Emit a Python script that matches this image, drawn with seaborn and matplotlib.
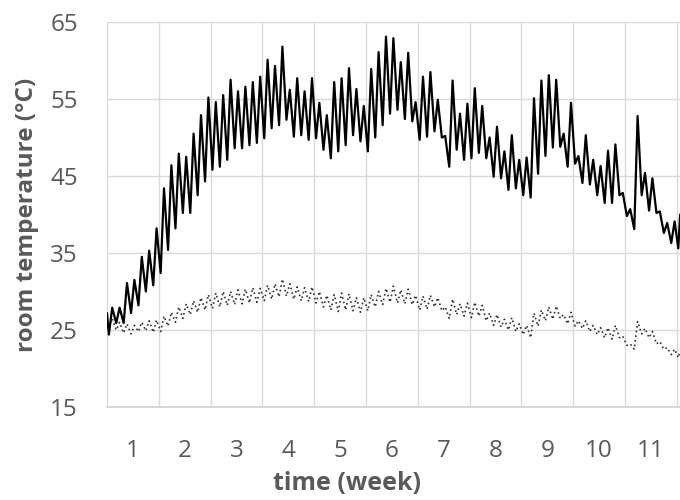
import numpy as np
import pandas as pd
import matplotlib
matplotlib.use("Agg")
import matplotlib.pyplot as plt
import seaborn as sns

# ---- data ----
week_labels = ["1", "2", "3", "4", "5", "6", "7", "8", "9", "10", "11"]
y_ticks = [15, 25, 35, 45, 55, 65]

solid_start = 27.2
solid_end = 40.0
solid_trough = [24.4, 25.9, 25.9, 27.2, 28.2, 30.0, 30.8,
                32.4, 35.4, 38.2, 40.2, 40.2, 42.5, 44.3,
                45.8, 46.2, 47.1, 48.6, 48.6, 49.0, 49.3,
                49.9, 51.2, 51.6, 52.3, 50.1, 50.3, 49.7,
                49.9, 48.4, 47.3, 48.2, 49.0, 50.3, 49.5,
                48.2, 50.0, 51.6, 53.1, 53.6, 52.4, 52.1,
                49.7, 50.1, 50.8, 50.0, 46.2, 48.4, 47.1,
                47.3, 48.0, 47.3, 44.9, 44.7, 43.2, 43.4,
                42.5, 42.2, 45.3, 47.6, 48.7, 48.8, 46.2,
                46.6, 44.1, 43.9, 42.5, 41.5, 41.5, 42.5,
                39.8, 38.1, 42.5, 40.5, 40.2, 37.6, 36.3, 35.6]
solid_peak = [27.9, 27.9, 31.1, 31.5, 34.5, 35.3, 38.2,
              43.4, 46.4, 47.9, 47.5, 50.5, 52.9, 55.2,
              54.6, 55.5, 57.5, 56.0, 56.6, 57.2, 57.9,
              60.1, 59.3, 61.8, 56.2, 57.7, 56.0, 57.7,
              54.5, 52.9, 57.2, 57.7, 59.0, 56.3, 54.1,
              58.9, 61.1, 63.1, 62.9, 59.8, 61.0, 54.6,
              57.9, 58.5, 54.9, 50.2, 57.4, 53.1, 54.4,
              56.4, 54.1, 50.0, 51.4, 48.2, 50.3, 47.1,
              47.4, 55.1, 57.4, 58.1, 57.5, 50.5, 54.5,
              47.6, 50.3, 47.1, 46.3, 48.3, 49.1, 42.8,
              40.7, 52.8, 45.4, 44.7, 40.4, 38.9, 39.1]

dotted_start = 25.5
dotted_end = 22.3
dotted_trough = [25.2, 25.0, 24.6, 24.5, 24.8, 24.9, 24.7,
                 24.8, 25.5, 26.0, 26.5, 27.0, 27.3, 27.6,
                 27.8, 28.0, 28.2, 28.3, 28.4, 28.5, 28.6,
                 28.8, 29.0, 29.3, 29.4, 29.0, 28.8, 28.7,
                 28.5, 28.0, 27.6, 27.4, 27.6, 27.5, 27.3,
                 27.5, 28.0, 28.3, 28.6, 28.5, 28.4, 28.3,
                 27.6, 27.7, 28.0, 27.5, 26.5, 27.0, 26.8,
                 26.6, 26.8, 26.2, 25.6, 25.4, 25.0, 24.8,
                 24.4, 24.0, 25.5, 26.2, 26.4, 26.5, 25.8,
                 25.5, 25.2, 24.8, 24.4, 24.0, 23.8, 24.0,
                 23.0, 22.5, 24.5, 24.0, 23.2, 22.5, 21.8, 21.4]
dotted_peak = [26.5, 26.0, 25.8, 25.6, 26.0, 26.2, 26.3,
               26.8, 27.3, 28.0, 28.4, 28.8, 29.2, 29.6,
               29.8, 30.0, 30.0, 30.2, 30.3, 30.5, 30.4,
               30.8, 31.0, 31.6, 31.0, 30.6, 30.5, 30.6,
               30.0, 29.5, 29.6, 29.8, 29.7, 29.2, 29.2,
               29.6, 30.0, 30.4, 30.7, 30.2, 30.3, 29.5,
               29.4, 29.5, 29.2, 28.0, 29.0, 28.4, 28.5,
               28.6, 28.2, 27.2, 27.0, 26.4, 26.6, 25.8,
               25.6, 27.2, 27.6, 28.0, 28.1, 27.0, 27.3,
               26.2, 26.2, 25.6, 25.3, 25.3, 25.6, 24.2,
               23.2, 26.1, 25.2, 24.8, 23.5, 22.7, 22.5]


def build(name, start, troughs, peaks, end):
    t = [0.0]
    v = [start]
    for d in range(len(peaks)):
        t += [d + 0.25, d + 0.7]
        v += [troughs[d], peaks[d]]
    n = len(peaks)
    t += [n + 0.2, n + 0.45]
    v += [troughs[n], end]
    return pd.DataFrame({"week": np.array(t) / 7.0, "temp": v, "series": name})


df_solid = build("room", solid_start, solid_trough, solid_peak, solid_end)
df_dot = build("ref", dotted_start, dotted_trough, dotted_peak, dotted_end)

sns.set_style("white")
plt.rcParams["font.family"] = ["Open Sans", "DejaVu Sans"]

fig = plt.figure(figsize=(6.8, 5.0), dpi=100)
ax = fig.add_axes([107 / 680, 1 - 407 / 500, 1 - 107 / 680, (407 - 22) / 500])

sns.lineplot(data=df_dot, x="week", y="temp", ax=ax, color="#333333",
             linewidth=1.2, linestyle=(0, (1, 1.8)), sort=False, estimator=None)
sns.lineplot(data=df_solid, x="week", y="temp", ax=ax, color="black",
             linewidth=1.6, sort=False, estimator=None)

ax.set_xlim(0, 77.43 / 7)
ax.set_ylim(15, 65)
ax.set_yticks(y_ticks)
ax.set_xticks(range(12))
ax.set_xticklabels([])
ax.set_xticks(np.arange(0.5, 11, 1.0), minor=True)
ax.set_xticklabels(week_labels, minor=True)
ax.grid(True, which="major", color="#d9d9d9", linewidth=1.0)
ax.grid(False, which="minor")
ax.tick_params(axis="both", which="both", length=0, labelcolor="#595959", labelsize=17.5)
ax.tick_params(axis="y", pad=21)
ax.tick_params(axis="x", which="minor", pad=23)
for s in ["top", "right", "left"]:
    ax.spines[s].set_visible(False)
ax.spines["bottom"].set_color("#d0d0d0")
ax.spines["bottom"].set_linewidth(1.2)

ax.set_xlabel("time (week)", fontsize=18, fontweight="bold", color="#595959")
ax.xaxis.set_label_coords((347 - 107) / 573, -0.2, transform=ax.transAxes)
ax.xaxis.label.set_verticalalignment("center")
ax.set_ylabel("room temperature (°C)", fontsize=17.5, fontweight="bold", color="#595959", labelpad=8)

fig.savefig("out.png", dpi=100)
